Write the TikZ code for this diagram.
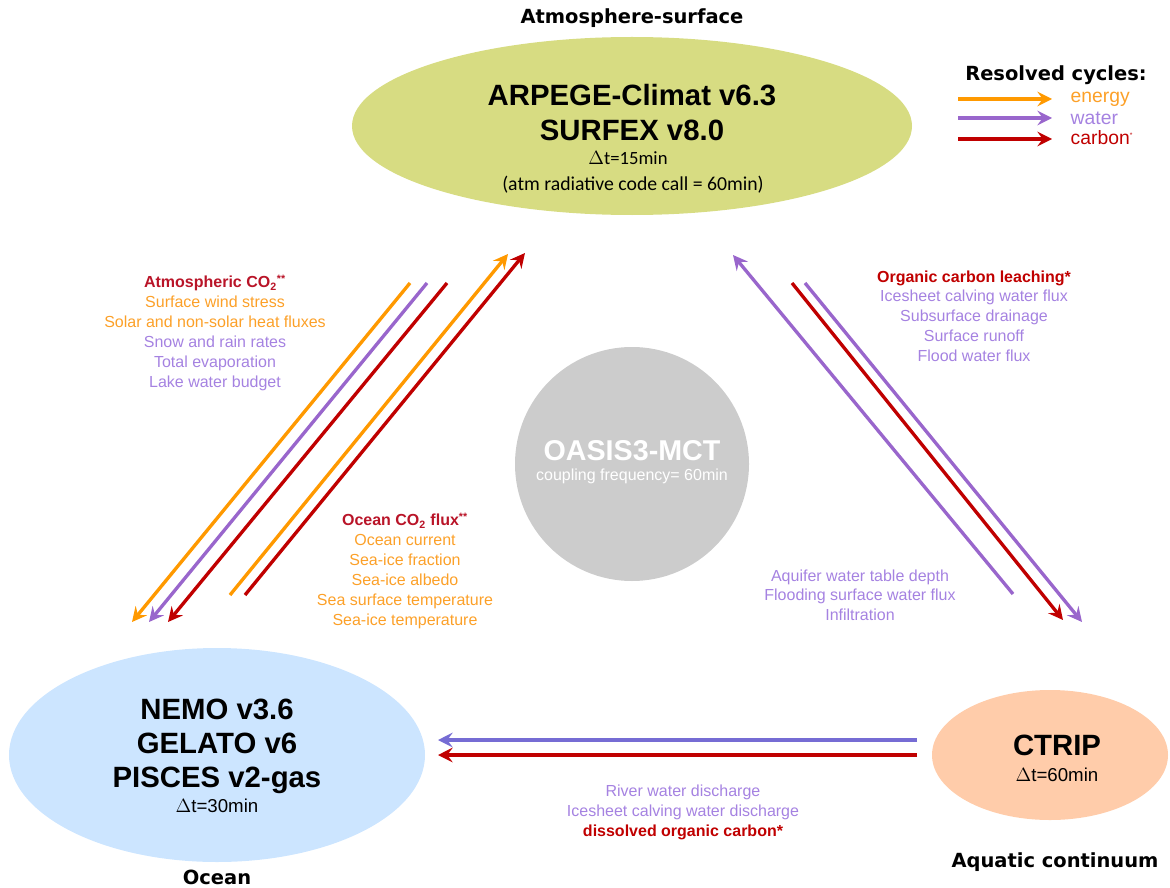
\documentclass[tikz,border=0pt]{standalone}
\usepackage{fontspec}
\setmainfont{Liberation Sans}
\newfontfamily\dejavu{DejaVu Sans}
\newfontfamily\carlito{Carlito}
\usetikzlibrary{arrows.meta,shapes.geometric}

\definecolor{energycol}{RGB}{255,153,0}
\definecolor{watercol}{RGB}{153,102,204}
\definecolor{riverwatercol}{RGB}{118,108,212}
\definecolor{carboncol}{RGB}{192,0,0}
\definecolor{energytxt}{RGB}{252,160,40}
\definecolor{watertxt}{RGB}{165,130,225}
\definecolor{carbontxt}{RGB}{185,20,40}

\begin{document}
\begin{tikzpicture}[x=0.75pt,y=0.75pt,yscale=-1,xscale=1,
  flow/.style={line width=2.5pt,-{Stealth[length=11pt,width=11pt,inset=4pt]}},
  energy/.style={flow,color=energycol},
  water/.style={flow,color=watercol},
  carbon/.style={flow,color=carboncol},
  region/.style={font=\dejavu\bfseries\fontsize{14.6}{17}\selectfont},
  model/.style={font=\bfseries\fontsize{22}{26}\selectfont},
  fluxes/.style={align=center,font=\fontsize{12}{15}\selectfont}]
%set diagram: 1170 x 888
\useasboundingbox (0,0) rectangle (1170,888);

%Shape: Ellipse
\node [ellipse,fill={rgb, 255:red, 215; green, 220; blue, 130},minimum width=420pt,minimum height=133.5pt,inner sep=0] (arpege) at (632,126) {};
%Shape: Ellipse
\node [ellipse,fill={rgb, 255:red, 204; green, 229; blue, 255},minimum width=312pt,minimum height=160.5pt,inner sep=0] (nemo) at (217,755) {};
%Shape: Ellipse
\node [ellipse,fill={rgb, 255:red, 255; green, 204; blue, 170},minimum width=177pt,minimum height=97.5pt,inner sep=0] (ctrip) at (1050,755) {};
%Shape: Circle
\node [circle,fill={rgb, 255:red, 204; green, 204; blue, 204},minimum size=175.5pt,inner sep=0] (oasis) at (632,464) {};

% Text Node
\node [region] (atmlbl) at (632,18) {Atmosphere-surface};
% Text Node
\node [region] (ocelbl) at (217,877) {Ocean};
% Text Node
\node [region] (aqulbl) at (1055,862) {Aquatic continuum};

% Text Node
\node [model] (arpegetxt) at (632,95) {ARPEGE-Climat v6.3};
\node [model] (surfextxt) at (632,130) {SURFEX v8.0};
\node [font=\carlito\fontsize{14}{16}\selectfont] (arpegedt) at (628,158) {$\Delta$t=15min};
\node [font=\carlito\fontsize{14.8}{17}\selectfont] (arpegerad) at (633,185) {(atm radiative code call = 60min)};

% Text Node
\node [model,align=center,font=\bfseries\fontsize{22}{25.5}\selectfont] (nemotxt) at (217,746) {NEMO v3.6\\GELATO v6\\PISCES v2-gas};
\node [font=\fontsize{14}{16}\selectfont] (nemodt) at (217,806) {$\Delta$t=30min};

% Text Node
\node [model] (ctriptxt) at (1057,745) {CTRIP};
\node [font=\fontsize{14}{16}\selectfont] (ctripdt) at (1057,775) {$\Delta$t=60min};

% Text Node
\node [font=\bfseries\fontsize{21.5}{25}\selectfont,white] (oasistxt) at (632,451) {OASIS3-MCT};
\node [font=\fontsize{12}{14}\selectfont,white] (oasisfreq) at (632,476) {coupling frequency= 60min};

%Legend
\node [region] (legtitle) at (1056,75) {Resolved cycles:};
\coordinate (lege1) at (958,99);  \coordinate (lege2) at (1052,99);
\coordinate (legw1) at (958,118); \coordinate (legw2) at (1052,118);
\coordinate (legc1) at (958,139); \coordinate (legc2) at (1052,139);
\draw [energy] (lege1) -- (lege2);
\draw [water] (legw1) -- (legw2);
\draw [carbon] (legc1) -- (legc2);
\node [anchor=west,font=\fontsize{14.5}{16}\selectfont,energytxt] (legetxt) at (1066,99) {energy};
\node [anchor=west,font=\fontsize{14.5}{16}\selectfont,watertxt] (legwtxt) at (1066,118) {water};
\node [anchor=west,font=\fontsize{14.5}{16}\selectfont,carboncol] (legctxt) at (1066,138) {carbon\textsuperscript{\tiny*}};

%Straight Lines: atmosphere to ocean
\coordinate (aoe1) at (410,283); \coordinate (aoe2) at (132,622);
\coordinate (aow1) at (427,283); \coordinate (aow2) at (149,622);
\coordinate (aoc1) at (447,283); \coordinate (aoc2) at (168,622);
\draw [energy] (aoe1) -- (aoe2);
\draw [water] (aow1) -- (aow2);
\draw [carbon] (aoc1) -- (aoc2);

%Straight Lines: ocean to atmosphere
\coordinate (oae1) at (230,595); \coordinate (oae2) at (508,254);
\coordinate (oac1) at (245,595); \coordinate (oac2) at (525,253);
\draw [energy] (oae1) -- (oae2);
\draw [carbon] (oac1) -- (oac2);

%Straight Lines: river routing to atmosphere
\coordinate (taw1) at (1013,594); \coordinate (taw2) at (733,255);
\draw [water] (taw1) -- (taw2);

%Straight Lines: atmosphere to river routing
\coordinate (atc1) at (792,283); \coordinate (atc2) at (1063,620);
\coordinate (atw1) at (805,283); \coordinate (atw2) at (1082,622);
\draw [carbon] (atc1) -- (atc2);
\draw [water] (atw1) -- (atw2);

%Straight Lines: river routing to ocean
\coordinate (tow1) at (917,740); \coordinate (tow2) at (438,740);
\coordinate (toc1) at (917,755); \coordinate (toc2) at (438,755);
\draw [water,color=riverwatercol] (tow1) -- (tow2);
\draw [carbon] (toc1) -- (toc2);

% Text Node
\node [fluxes] (atmfluxes) at (215,333) {{\bfseries\color{carbontxt}Atmospheric CO\textsubscript{2}\textsuperscript{**}}\\
  \color{energytxt}Surface wind stress\\
  \color{energytxt}Solar and non-solar heat fluxes\\
  \color{watertxt}Snow and rain rates\\
  \color{watertxt}Total evaporation\\
  \color{watertxt}Lake water budget};
% Text Node
\node [fluxes] (ocefluxes) at (405,571) {{\bfseries\color{carbontxt}Ocean CO\textsubscript{2} flux\textsuperscript{**}}\\
  \color{energytxt}Ocean current\\
  \color{energytxt}Sea-ice fraction\\
  \color{energytxt}Sea-ice albedo\\
  \color{energytxt}Sea surface temperature\\
  \color{energytxt}Sea-ice temperature};
% Text Node
\node [fluxes,font=\fontsize{12}{14.8}\selectfont] (landfluxes) at (974,316) {{\bfseries\color{carboncol}Organic carbon leaching*}\\
  \color{watertxt}Icesheet calving water flux\\
  \color{watertxt}Subsurface drainage\\
  \color{watertxt}Surface runoff\\
  \color{watertxt}Flood water flux};
% Text Node
\node [fluxes,font=\fontsize{12}{14.5}\selectfont,watertxt] (aquifluxes) at (860,595) {Aquifer water table depth\\
  Flooding surface water flux\\
  Infiltration};
% Text Node
\node [fluxes,font=\fontsize{12}{15}\selectfont] (riverfluxes) at (683,812) {\color{watertxt}River water discharge\\
  \color{watertxt}Icesheet calving water discharge\\
  {\bfseries\color{carboncol}dissolved organic carbon*}};

\end{tikzpicture}
\end{document}
